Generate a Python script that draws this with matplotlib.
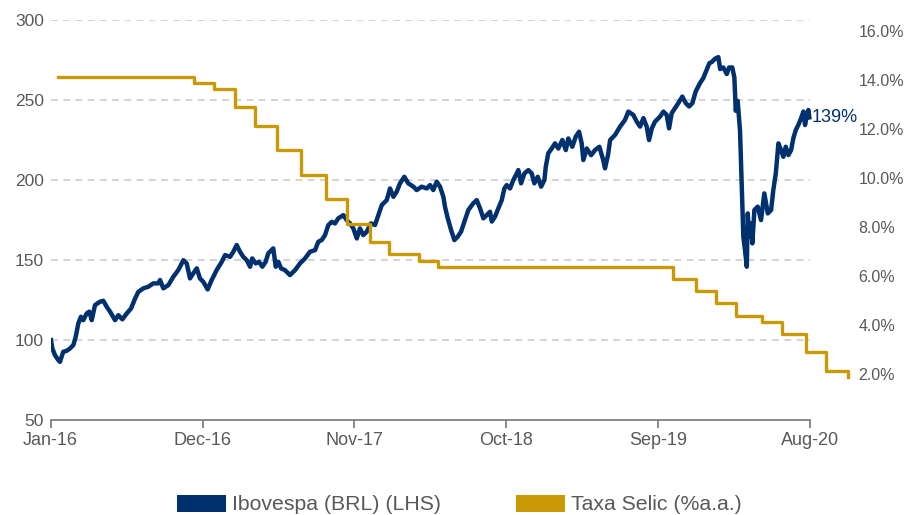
import numpy as np
import matplotlib
matplotlib.use('Agg')
import matplotlib.pyplot as plt
import matplotlib.transforms as mtransforms
from matplotlib.patches import Patch

plt.rcParams['font.family'] = ['Liberation Sans', 'DejaVu Sans']

NAVY = '#00306E'
GOLD = '#C99A06'
GREY_TXT = '#595959'

# time in months since Jan-2016
ibov_t = [0.02, 0.12, 0.31, 0.55, 0.67, 0.91, 1.16, 1.40, 1.64, 1.81, 2.00, 2.19, 2.36, 2.61, 2.80, 2.97,
          3.21, 3.57, 3.81, 4.06, 4.30, 4.66, 4.90, 5.19, 5.51, 5.82, 6.11, 6.35, 6.71, 7.07, 7.43, 7.79,
          7.92, 8.16, 8.52, 8.88, 9.24, 9.61, 9.85, 10.09, 10.33, 10.58, 10.81, 11.05, 11.37, 11.66, 12.02,
          12.39, 12.63, 12.99, 13.23, 13.47, 13.71, 13.95, 14.20, 14.44, 14.60, 14.85, 15.09, 15.33, 15.57,
          15.76, 16.12, 16.30, 16.49, 16.68, 16.97, 17.33, 17.70, 18.06, 18.42, 18.78, 19.15, 19.38, 19.63,
          19.87, 20.11, 20.36, 20.59, 20.83, 21.20, 21.44, 21.68, 21.92, 22.17, 22.40, 22.64, 22.89, 23.20,
          23.49, 23.73, 23.98, 24.34, 24.58, 24.82, 25.06, 25.30, 25.61, 25.90, 26.27, 26.51, 26.87, 27.24,
          27.48, 27.71, 27.96, 28.20, 28.44, 28.56, 28.76, 29.00, 29.24, 29.48, 29.72, 29.96, 30.25, 30.61,
          30.86, 31.10, 31.34, 31.58, 31.82, 31.95, 32.18, 32.42, 32.67, 32.86, 33.03, 33.27, 33.51, 33.76,
          33.87, 34.07, 34.31, 34.60, 34.84, 35.03, 35.28, 35.52, 35.76, 35.86, 36.04, 36.29, 36.53, 36.77,
          37.06, 37.31, 37.49, 37.78, 38.03, 38.27, 38.46, 38.58, 38.83, 39.14, 39.43, 39.74, 40.01, 40.15,
          40.37, 40.52, 40.88, 41.24, 41.60, 41.84, 42.20, 42.45, 42.69, 42.93, 43.17, 43.34, 43.54, 43.77,
          44.14, 44.38, 44.62, 44.79, 44.98, 45.22, 45.46, 45.75, 46.00, 46.24, 46.48, 46.72, 47.03, 47.27,
          47.52, 47.71, 47.88, 48.12, 48.36, 48.49, 48.72, 48.97, 49.14, 49.37, 49.52, 49.62, 49.76, 49.93,
          50.05, 50.13, 50.17, 50.29, 50.42, 50.49, 50.58, 50.73, 50.82, 50.97, 51.21, 51.45, 51.69, 51.94,
          52.18, 52.34, 52.52, 52.71, 52.90, 53.07, 53.24, 53.43, 53.63, 53.79, 53.97, 54.15, 54.35, 54.52,
          54.64, 54.77, 54.88, 54.95]
ibov_v = [100, 94.8, 90.6, 87.5, 86.4, 92.7, 93.3, 94.8, 96.9, 102, 110.4, 114.6, 112.5, 116.7, 117.8, 112.5,
          121.9, 124, 124.6, 120.8, 117.8, 112.5, 115.6, 113, 116.7, 119.8, 126, 130.2, 132.4, 133.4, 135.5, 135.5,
          137.6, 132.4, 134.4, 139.6, 143.8, 150, 148, 138.6, 141.8, 144.9, 138.6, 136.5, 131.7, 137.6, 143.8,
          149, 153.2, 152.1, 155.3, 159.5, 155.3, 152.1, 150, 145.9, 151.1, 148, 149, 145.9, 149,
          154.3, 157.4, 145.9, 149, 144.9, 143.8, 140.7, 143.8, 148, 151.1, 155.3, 156.3, 161.5, 162.6,
          165.7, 172, 174, 173, 176.2, 178.2, 175.1, 173, 169.9, 163.6, 169.9, 165.7, 167.8, 173,
          172, 178.2, 184.5, 187.6, 194.9, 189.7, 192.8, 198.1, 202.2, 198.1, 196, 193.9, 196, 194.9,
          197, 193.9, 199.1, 196, 189.7, 183.4, 176.2, 168.9, 162.6, 164.7, 167.8, 174, 181.4, 185.6,
          187.6, 182.4, 176.2, 178.2, 180.3, 174.2, 177.2, 182.4, 187.6, 194.9, 197, 194.9, 200.2, 204.3,
          206.4, 198.1, 204.3, 206.4, 204.3, 198.1, 202.2, 196, 200.2, 208.5, 216.9, 219.9, 223.1, 219.9,
          225.2, 218.9, 226.2, 221, 227.3, 230.4, 223.1, 212.7, 219.9, 215.7, 218.9, 221, 213, 207.5,
          216, 225.2, 228.4, 233.6, 237.8, 243, 240.9, 236.7, 233.6, 238.9, 233.6, 225.2, 232.5, 236.7,
          239.9, 243, 240.9, 232.5, 242, 245.1, 248.3, 252.4, 248.3, 246.2, 248.3, 255.6, 260.8, 264,
          269.2, 273.3, 274, 276.1, 277.1, 269.6, 270.6, 266.5, 270.6, 270.6, 264.3, 243.5, 249.7, 230.9,
          198.1, 177.2, 164.7, 156.3, 145.9, 179.3, 164.7, 173, 160.5, 181.4, 183.5, 175.1, 191.8, 179.3,
          181.4, 193.9, 204.3, 223.1, 218.9, 214.7, 221, 215.8, 218.9, 226.3, 231.5, 234.6, 238.8, 243,
          234.6, 240.9, 244, 239.4]

selic_t = [0.55, 10.40, 11.85, 13.37, 14.80, 16.37, 18.13, 19.94, 21.49, 23.13, 24.51, 26.70, 28.08,
           45.06, 46.72, 48.19, 49.64, 51.55, 53.00, 54.69, 56.14, 57.78]
selic_v = [14.25, 14.00, 13.75, 13.00, 12.25, 11.25, 10.25, 9.25, 8.25, 7.50, 7.00, 6.75, 6.50,
           6.00, 5.50, 5.00, 4.50, 4.25, 3.75, 3.00, 2.25, 2.00]

xtick_pos = [0, 11, 22, 33, 44, 55]
xtick_labels = ['Jan-16', 'Dec-16', 'Nov-17', 'Oct-18', 'Sep-19', 'Aug-20']
left_ticks = [50, 100, 150, 200, 250, 300]
grid_vals = [100, 150, 200, 250, 300]
right_ticks = [2, 4, 6, 8, 10, 12, 14, 16]
end_label = '139%'

fig = plt.figure(figsize=(9.06, 5.15), dpi=100)
ax = fig.add_axes([50.7 / 906, 95 / 515, (852 - 50.7) / 906, (420 - 20.5) / 515])
ax2 = ax.twinx()

ax.hlines(grid_vals, 0, 55, colors='#C8C8C8', linestyles=(0, (4.5, 3.5)), linewidth=1.1, zorder=1)
ax.plot(ibov_t, ibov_v, color=NAVY, linewidth=3.2, solid_joinstyle='round', zorder=3)
ax.annotate(end_label, xy=(ibov_t[-1], ibov_v[-1]), xytext=(2, 0), textcoords='offset points',
            va='center', ha='left', color=NAVY, fontsize=13)

ax2.step(selic_t, selic_v, where='post', color=GOLD, linewidth=2.4)

ax.set_xlim(0, 58.04)
ax.set_ylim(50, 300)
ax2.set_ylim(0.245, 16.55)

ax.set_xticks(xtick_pos)
ax.set_xticklabels(xtick_labels)
ax.set_yticks(left_ticks)
ax2.set_yticks(right_ticks)
ax2.set_yticklabels([f'{v:.1f}%' for v in right_ticks])

for s in ['top', 'right', 'left']:
    ax.spines[s].set_visible(False)
for s in ax2.spines.values():
    s.set_visible(False)
ax.spines['bottom'].set_bounds(0, 55)
ax.spines['bottom'].set_color('#808080')
ax.spines['bottom'].set_linewidth(1.3)

ax.tick_params(axis='x', length=5.5, width=1.3, color='#808080', pad=3, labelsize=13, labelcolor=GREY_TXT)
ax.tick_params(axis='y', length=0, pad=5, labelsize=12.5, labelcolor=GREY_TXT)
ax2.tick_params(axis='y', length=0, pad=4.5, labelsize=11.5, labelcolor=GREY_TXT)

shift_up = mtransforms.ScaledTranslation(0, 3 / 100, fig.dpi_scale_trans)
for lab in ax2.get_yticklabels():
    lab.set_transform(lab.get_transform() + shift_up)

handles = [Patch(facecolor=NAVY, label='Ibovespa (BRL) (LHS)'),
           Patch(facecolor=GOLD, label='Taxa Selic (%a.a.)')]
fig.legend(handles=handles, loc='center', bbox_to_anchor=(459.5 / 906, 1 - 504.5 / 515), ncol=2,
           frameon=False, fontsize=15.3, handlelength=2.3, handleheight=0.87, handletextpad=0.3,
           columnspacing=3.5, labelcolor=GREY_TXT, borderpad=0.2)

fig.savefig('out.png', dpi=100)
